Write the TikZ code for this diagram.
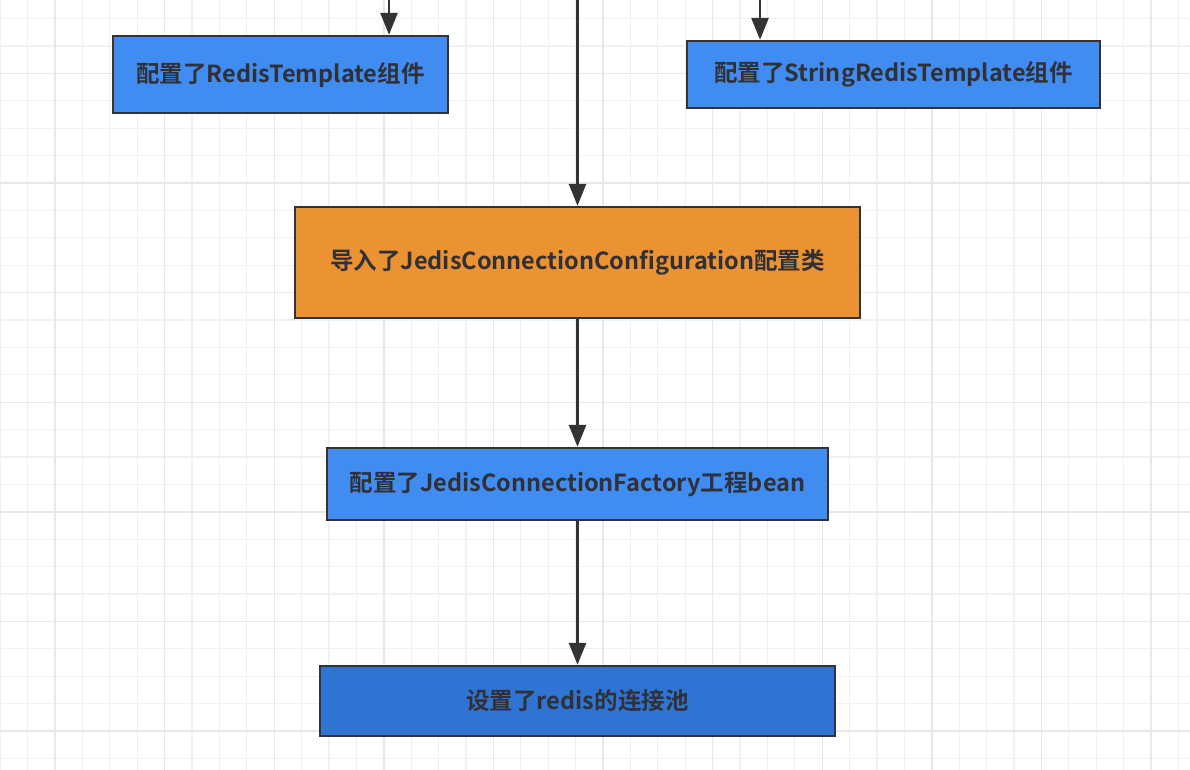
\documentclass[tikz,border=0pt]{standalone}
\usepackage{fontspec}
\setmainfont{Noto Sans CJK SC}[BoldFont={Noto Sans CJK SC Bold}]
\usetikzlibrary{arrows.meta}
\definecolor{boxblue}{HTML}{408CF0}
\definecolor{boxdeep}{HTML}{2F74D2}
\definecolor{boxorange}{HTML}{EB9232}
\definecolor{edge}{HTML}{333333}
\definecolor{txt}{HTML}{303036}
\definecolor{gridminor}{HTML}{F1F1F5}
\definecolor{gridmajor}{HTML}{E7E7EC}
\tikzset{
  box/.style={draw=edge, line width=2.4pt, inner sep=0pt, text=txt,
    font=\fontsize{23.5}{27}\selectfont\bfseries},
  arr/.style={draw=edge, line width=2.8pt, -{Triangle[width=17pt,length=22pt]}, fill=edge},
}
\begin{document}
\begin{tikzpicture}[x=1pt,y=-1pt]
\path[fill=white] (0,0) rectangle (1190,770);
\useasboundingbox (0,0) rectangle (1190,770);
\begin{scope}
\clip (0,0) rectangle (1190,770);
\foreach \i in {0,...,44} {
  \pgfmathsetmacro{\xx}{0.2+27.4*\i}
  \draw[gridminor, line width=1.2pt] (\xx,0) -- (\xx,770);
}
\foreach \i in {0,...,29} {
  \pgfmathsetmacro{\yy}{18.6+27.4*\i}
  \draw[gridminor, line width=1.2pt] (0,\yy) -- (1190,\yy);
}
\foreach \i in {0,...,11} {
  \pgfmathsetmacro{\xx}{55+109.6*\i}
  \draw[gridmajor, line width=1.4pt] (\xx,0) -- (\xx,770);
}
\foreach \i in {0,...,7} {
  \pgfmathsetmacro{\yy}{73.4+109.6*\i}
  \draw[gridmajor, line width=1.4pt] (0,\yy) -- (1190,\yy);
}
\end{scope}

\node[box, fill=boxblue, minimum width=335pt, minimum height=77pt] (b1) at (280.5,74.5) {配置了RedisTemplate组件};
\node[box, fill=boxblue, minimum width=413pt, minimum height=67pt] (b2) at (893.5,74.5) {配置了StringRedisTemplate组件};
\node[box, fill=boxorange, minimum width=565pt, minimum height=111pt] (b3) at (577.5,262.5) {导入了JedisConnectionConfiguration配置类};
\node[box, fill=boxblue, minimum width=501pt, minimum height=72pt] (b4) at (577.5,484) {配置了JedisConnectionFactory工程bean};
\node[box, fill=boxdeep, minimum width=515pt, minimum height=70pt] (b5) at (577.5,701) {设置了redis的连接池};

\coordinate (t1) at (389,-2);
\coordinate (t2) at (760,-2);
\coordinate (t3) at (577.5,-2);

\draw[arr] (t1) -- (t1 |- b1.north);
\draw[arr] (t2) -- (t2 |- b2.north);
\draw[arr] (t3) -- (b3.north);
\draw[arr] (b3.south) -- (b4.north);
\draw[arr] (b4.south) -- (b5.north);
\end{tikzpicture}
\end{document}
